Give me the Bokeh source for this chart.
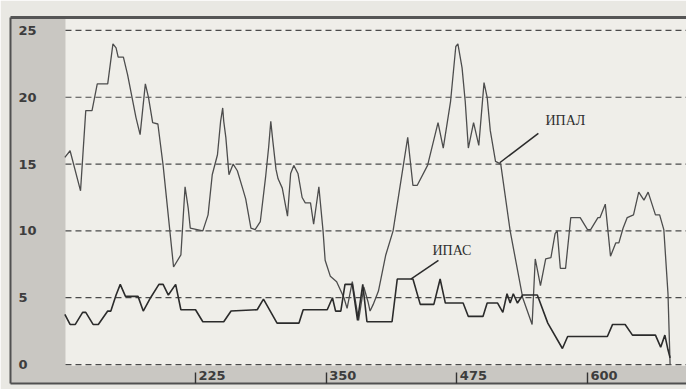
from bokeh.plotting import figure
from bokeh.models import Range1d, FixedTicker, LinearAxis, BoxAnnotation
from bokeh.core.properties import value
from bokeh.embed import file_html
from bokeh.resources import INLINE

# ---- data ----
ipal_x = [100, 105, 115, 120, 126, 131, 141, 146, 149, 151, 156, 160, 168, 172, 177, 180, 184, 189, 194,
          204, 211, 215, 218, 220, 232, 237, 241, 246, 249, 251, 252, 254, 257, 261, 265, 270, 273, 278,
          282, 287, 292, 295, 297, 299, 302, 304, 308, 313, 316, 319, 323, 327, 330, 335, 338, 343, 347,
          349, 354, 360, 367, 370, 375, 381, 386, 390, 392, 395, 400, 407, 414, 428, 433, 437, 447, 457,
          462, 469, 474, 476, 480, 483, 486, 491, 496, 501, 504, 507, 512, 517, 526, 538, 547, 550, 555,
          560, 565, 569, 571, 574, 579, 584, 593, 600, 603, 610, 612, 617, 622, 627, 630, 634, 638, 644,
          649, 654, 658, 665, 669, 673, 677, 679]
ipal_y = [15.5, 16.0, 13.0, 19.0, 19.0, 21.0, 21.0, 24.0, 23.7, 23.0, 23.0, 21.7, 18.5, 17.2, 21.0, 20.0,
          18.1, 18.0, 14.9, 7.3, 8.2, 13.3, 11.7, 10.2, 10.0, 11.2, 14.2, 15.7, 18.2, 19.2, 18.2, 17.0,
          14.2, 15.0, 14.5, 13.2, 12.4, 10.2, 10.1, 10.7, 14.0, 16.3, 18.2, 16.7, 14.6, 13.9, 13.2, 11.1,
          14.3, 14.9, 14.3, 12.5, 12.1, 12.1, 10.5, 13.3, 10.0, 7.8, 6.6, 6.2, 5.0, 4.2, 6.2, 3.3, 5.8,
          4.7, 4.0, 4.5, 5.5, 8.2, 10.0, 17.0, 13.4, 13.4, 14.9, 18.1, 16.2, 19.7, 23.8, 24.0, 22.2, 19.7,
          16.2, 18.1, 16.4, 21.1, 20.0, 17.5, 15.2, 15.0, 10.0, 5.0, 3.0, 7.9, 5.9, 7.9, 8.0, 9.8, 10.0,
          7.2, 7.2, 11.0, 11.0, 10.1, 10.1, 11.0, 11.0, 12.0, 8.1, 9.1, 9.1, 10.2, 11.0, 11.2, 12.9, 12.3,
          12.9, 11.2, 11.2, 10.1, 5.3, 0.0]

ipas_x = [100, 105, 110, 117, 120, 127, 132, 141, 144, 149, 153, 158, 170, 175, 182, 190, 194, 199, 206,
          211, 225, 232, 252, 259, 284, 290, 303, 324, 328, 351, 356, 359, 364, 368, 375, 380, 385, 389,
          413, 418, 433, 440, 453, 459, 464, 481, 486, 500, 504, 514, 519, 523, 526, 529, 533, 538, 552,
          562, 576, 581, 619, 624, 636, 643, 665, 670, 674, 677, 679]
ipas_y = [3.75, 3.0, 3.0, 3.9, 3.9, 3.0, 3.0, 4.0, 4.0, 5.2, 6.0, 5.1, 5.1, 4.0, 5.0, 6.0, 6.0, 5.2, 6.0,
          4.1, 4.1, 3.2, 3.2, 4.0, 4.1, 4.9, 3.1, 3.1, 4.1, 4.1, 5.0, 4.0, 4.0, 6.0, 6.0, 3.3, 6.0, 3.2,
          3.2, 6.4, 6.4, 4.5, 4.5, 6.4, 4.6, 4.6, 3.6, 3.6, 4.6, 4.6, 3.9, 5.3, 4.6, 5.3, 4.6, 5.2, 5.2,
          3.1, 1.2, 2.1, 2.1, 3.0, 3.0, 2.2, 2.2, 1.3, 2.2, 1.1, 0.5]

x_ticks = [225, 350, 475, 600]
y_ticks = [0, 5, 10, 15, 20, 25]

series_names = ["ИПАЛ", "ИПАС"]
name_x = [559.8, 451.7]
name_y = [18.26, 8.53]
# leader line from each name to its curve
lead_x0 = [553.0, 457.4]
lead_y0 = [17.3, 7.8]
lead_x1 = [516.0, 431.0]
lead_y1 = [15.1, 6.4]

# ---- layout constants ----
PLOT_X0 = 100.6          # left edge of the light data area (grey scale strip lies left of it)
X_START, X_END = 48.0, 694.7
Y_START, Y_END = -1.42, 25.97
AREA_BOTTOM = -0.1       # bottom of the light data area (grey tick band lies below it)
X_LABEL_Y = -0.8         # vertical position of the x tick numbers inside the band
GREY = "#c9c7c2"
INK = "#3d3d3d"

p = figure(width=686, height=389, output_backend="svg", toolbar_location=None,
           x_range=Range1d(X_START, X_END), y_range=Range1d(Y_START, Y_END),
           min_border_left=10, min_border_right=0, min_border_top=17, min_border_bottom=6)

p.background_fill_color = GREY
p.border_fill_color = "#e9e8e3"
p.outline_line_color = None
p.xgrid.visible = False
p.ygrid.visible = False

# light data area
p.add_layout(BoxAnnotation(left=PLOT_X0, right=X_END, bottom=AREA_BOTTOM, top=Y_END,
                           fill_color="#efeee9", fill_alpha=1, line_color=None, level="image"))

# dashed horizontal grid lines across the data area
p.segment(x0=[PLOT_X0] * len(y_ticks), x1=[X_END] * len(y_ticks), y0=y_ticks, y1=y_ticks,
          line_color="#4a4a4a", line_dash="6 4", line_width=1.2)

# x axis: its line is the bottom border, its ticks are the short bars before the numbers
p.xaxis.ticker = FixedTicker(ticks=x_ticks)
p.xaxis.major_label_overrides = {t: "" for t in x_ticks}
p.xaxis.major_label_text_font_size = "1px"
p.xaxis.major_label_standoff = 0
p.xaxis.axis_line_color = "#505050"
p.xaxis.axis_line_width = 2
p.xaxis.major_tick_in = 11
p.xaxis.major_tick_out = 0
p.xaxis.major_tick_line_color = "#333333"
p.xaxis.major_tick_line_width = 1.4
p.xaxis.minor_tick_line_color = None

# y axis: its line is the left border
p.yaxis.ticker = FixedTicker(ticks=y_ticks)
p.yaxis.major_label_overrides = {t: "" for t in y_ticks}
p.yaxis.major_label_text_font_size = "1px"
p.yaxis.major_label_standoff = 0
p.yaxis.axis_line_color = "#505050"
p.yaxis.axis_line_width = 2
p.yaxis.major_tick_line_color = None
p.yaxis.minor_tick_line_color = None

# top border
top = LinearAxis(ticker=FixedTicker(ticks=[]), axis_line_color="#555555", axis_line_width=3,
                 major_tick_line_color=None, minor_tick_line_color=None,
                 major_label_text_font_size="1px", major_label_standoff=0)
p.add_layout(top, "above")

# series
p.line(ipal_x, ipal_y, line_color="#4d4d4d", line_width=1.3)
p.line(ipas_x, ipas_y, line_color="#2b2b2b", line_width=1.6)

# tick numbers
p.text(x=[X_START] * len(y_ticks), y=y_ticks, text=[str(t) for t in y_ticks], x_offset=8,
       text_align="left", text_baseline="middle", text_font=value("DejaVu Sans"),
       text_font_style="bold", text_font_size="13px", text_color=INK, level="overlay")
p.text(x=x_ticks, y=[X_LABEL_Y] * len(x_ticks), text=[str(t) for t in x_ticks], x_offset=3,
       text_align="left", text_baseline="middle", text_font=value("DejaVu Sans"),
       text_font_style="bold", text_font_size="13px", text_color=INK, level="overlay")

# series names with leader lines
p.segment(x0=lead_x0, y0=lead_y0, x1=lead_x1, y1=lead_y1, line_color="#2b2b2b", line_width=1.5)
p.text(x=name_x, y=name_y, text=series_names, text_align="left", text_baseline="middle",
       text_font=value("Liberation Serif"), text_font_size="14px", text_color="#2e2e2e")

open("out.html", "w").write(file_html(p, INLINE))
